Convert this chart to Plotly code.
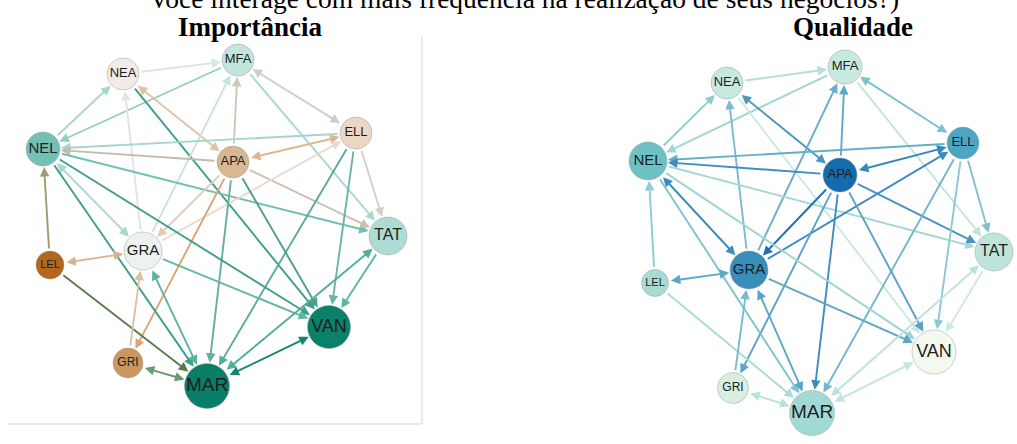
import plotly.graph_objects as go

# ---------------- data ----------------
nodes = ["NEA", "MFA", "NEL", "ELL", "APA", "TAT", "GRA", "LEL", "VAN", "GRI", "MAR"]

# layout coordinates of each network (panel units)
imp_x = [123, 238, 43, 356, 233, 388, 143, 50, 329, 128, 207]
imp_y = [74, 60, 149, 133, 162, 236, 251, 265, 327, 363, 386]
imp_size = [16, 16, 17, 16, 16, 19, 19, 14, 21.5, 15, 22.5]
imp_color = ["#f1ece7", "#c3e5de", "#72c1b4", "#ebd8c4", "#d9b792", "#acdcd3",
             "#edf2f1", "#b3661d", "#0b806a", "#c9975f", "#077f68"]

qua_x = [127, 245, 48, 363, 240, 394, 149, 55, 334, 133, 212]
qua_y = [83, 67, 161, 143, 175, 252, 270, 283, 352, 388, 413]
qua_size = [16, 17, 19, 16, 17, 19, 19, 13.5, 22, 15.5, 22.5]
qua_color = ["#c6e9e0", "#c8e9df", "#6dc0c4", "#4ca6c3", "#146cae", "#bee5dc",
             "#388eb8", "#a8dcd3", "#f3f9ee", "#d6efe0", "#a1dad4"]

label_size = [13, 13, 15, 13, 13, 16, 15, 11, 18, 12, 19]

# edges: (source, target, bidirectional)
edges = [
    ("NEA", "MFA", False), ("NEL", "NEA", False), ("MFA", "NEL", False),
    ("NEA", "VAN", False), ("NEA", "APA", True), ("GRA", "NEA", False),
    ("GRA", "MFA", False), ("APA", "MFA", False), ("ELL", "MFA", True),
    ("MFA", "TAT", False), ("ELL", "NEL", False), ("APA", "NEL", False),
    ("APA", "ELL", True), ("NEL", "TAT", False), ("ELL", "TAT", False),
    ("APA", "TAT", False), ("GRA", "ELL", False), ("APA", "GRA", False),
    ("ELL", "MAR", False), ("ELL", "VAN", False), ("APA", "MAR", False),
    ("APA", "VAN", False), ("APA", "GRI", False), ("NEL", "GRA", True),
    ("NEL", "MAR", False), ("NEL", "VAN", False), ("LEL", "NEL", False),
    ("LEL", "GRA", True), ("LEL", "MAR", False), ("GRI", "GRA", False),
    ("GRI", "MAR", True), ("GRA", "MAR", True), ("GRA", "VAN", False),
    ("TAT", "VAN", False), ("MAR", "TAT", True), ("MAR", "VAN", True),
]

imp_edge_color = [
    "#d6e6e1", "#a9d6cd", "#95cdc1", "#3f9e8a", "#e0c3a6", "#e3e3df",
    "#c9e3dd", "#cfc7b6", "#d1cec5", "#a9d8cf", "#a6d5cb", "#c2bdab",
    "#ddb690", "#72c0b3", "#d1d1c7", "#cdbfae", "#e8dbcd", "#e4cbb2",
    "#5aab98", "#6db4a3", "#69ad9c", "#4ba08c", "#d9a477", "#aad6cd",
    "#3e9f8b", "#3f9f8b", "#a29a68", "#d8b48c", "#5b7a4d", "#dcc1a1",
    "#6c9a70", "#5db2a2", "#63b5a4", "#5db6a5", "#50ae9b", "#148571",
]
qua_edge_color = [
    "#b4e0d8", "#8ccdd0", "#9fd6d3", "#c9e9e0", "#4b95c0", "#7db9cf",
    "#6aafcc", "#5ea8ca", "#7ebfd0", "#c0e4da", "#62b0c8", "#3f8ebf",
    "#3586bb", "#a6d9d3", "#80c0d0", "#4b92c0", "#3d8cbd", "#1f70b0",
    "#72b7cd", "#8cc8d1", "#3f8cbf", "#5aa1c6", "#5aa3c8", "#3b8cbc",
    "#7ec2cf", "#9dd4d2", "#8ccdd0", "#5aa9c9", "#aadcd4", "#7ab9cf",
    "#b6e2d8", "#5aa5c8", "#5ea5c6", "#cdebe0", "#bae3da", "#c2e6dc",
]

panel_titles = ["Importância", "Qualidade"]
question = "Você interage com mais frequência na realização de seus negócios?)"

# ---------------- figure ----------------
W, H = 1017, 444
fig = go.Figure()

panels = [
    dict(xr="x", yr="y", px=imp_x, py=imp_y, size=imp_size, col=imp_color, ecol=imp_edge_color),
    dict(xr="x2", yr="y2", px=qua_x, py=qua_y, size=qua_size, col=qua_color, ecol=qua_edge_color),
]

annotations = []
for p in panels:
    idx = {n: i for i, n in enumerate(nodes)}
    for (s, t, bi), c in zip(edges, p["ecol"]):
        i, j = idx[s], idx[t]
        annotations.append(dict(
            x=p["px"][j], y=p["py"][j], ax=p["px"][i], ay=p["py"][i],
            xref=p["xr"], yref=p["yr"], axref=p["xr"], ayref=p["yr"],
            text="", showarrow=True, arrowhead=2, arrowsize=1.0, arrowwidth=1.9,
            startarrowhead=2, startarrowsize=1.0,
            arrowside="end+start" if bi else "end",
            arrowcolor=c, standoff=p["size"][j] + 1, startstandoff=p["size"][i] + 1,
        ))
    fig.add_trace(go.Scatter(
        x=p["px"], y=p["py"], xaxis=p["xr"], yaxis=p["yr"],
        mode="markers+text", text=nodes, textposition="middle center",
        textfont=dict(family="Liberation Sans, Arial", size=label_size, color="#1e1e1e"),
        marker=dict(size=[2 * s for s in p["size"]], color=p["col"],
                    line=dict(color="rgba(150,150,150,0.45)", width=1), opacity=1),
        hoverinfo="text", showlegend=False, cliponaxis=False,
    ))

# titles
annotations.append(dict(x=250, y=27, xref="x", yref="y", text="<b>" + panel_titles[0] + "</b>",
                        showarrow=False, font=dict(family="Liberation Serif", size=27, color="#000")))
annotations.append(dict(x=253, y=27, xref="x2", yref="y2", text="<b>" + panel_titles[1] + "</b>",
                        showarrow=False, font=dict(family="Liberation Serif", size=27, color="#000")))
annotations.append(dict(x=524 / W, y=1 + 2 / H, xref="paper", yref="paper", text=question,
                        showarrow=False, yanchor="middle",
                        font=dict(family="Liberation Serif", size=27.5, color="#000")))

shapes = [
    dict(type="line", xref="x", yref="y", x0=422, x1=422, y0=37, y1=424,
         line=dict(color="#d4d4d4", width=1)),
    dict(type="line", xref="x", yref="y", x0=8, x1=422, y0=424, y1=424,
         line=dict(color="#d4d4d4", width=1)),
]

fig.update_layout(
    width=W, height=H, autosize=False,
    margin=dict(l=0, r=0, t=0, b=0),
    paper_bgcolor="white", plot_bgcolor="white",
    xaxis=dict(domain=[0, 425 / W], range=[0, 425], visible=False, fixedrange=True),
    yaxis=dict(domain=[0, 1], range=[H, 0], visible=False, fixedrange=True),
    xaxis2=dict(domain=[600 / W, 1], range=[0, 417], visible=False, fixedrange=True, anchor="y2"),
    yaxis2=dict(domain=[0, 1], range=[H, 0], visible=False, fixedrange=True, anchor="x2"),
    annotations=annotations, shapes=shapes,
)

fig.write_html("out.html", config={"displayModeBar": False},
               post_script="document.body.style.margin='0';document.body.style.overflow='hidden';")
